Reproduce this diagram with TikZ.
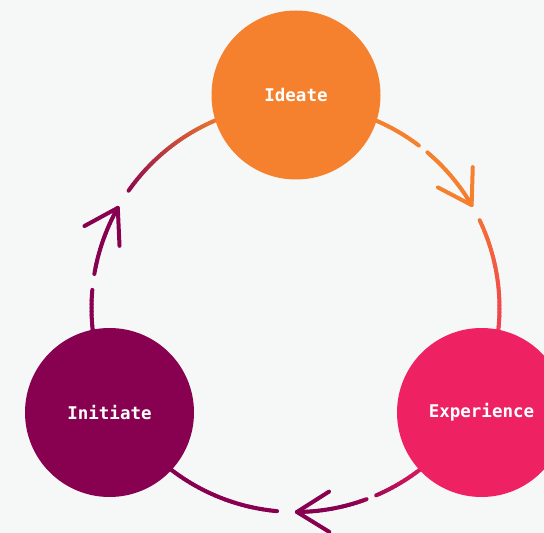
\documentclass[tikz,border=0pt]{standalone}
\usepackage{fontspec}
\newfontfamily\labelfont{DejaVu Sans Mono}
\usetikzlibrary{calc}
\definecolor{bgc}{HTML}{F5F8F7}
\definecolor{ideatec}{HTML}{F5802D}
\definecolor{expc}{HTML}{EE2163}
\definecolor{initc}{HTML}{880050}
\tikzset{
  stage/.style={circle, minimum size=169pt, inner sep=0pt, text=white,
    font=\labelfont\bfseries\fontsize{17.5}{20}\selectfont},
  flow/.style={line width=4pt, line cap=round, line join=round},
}
% #1 start angle, #2 from offset, #3 to offset, #4 colour A, #5 colour B, #6/#7 transition offsets
\newcommand\gseg[7]{%
  \pgfmathtruncatemacro\nsteps{max(1,round((#3-#2)/1))}%
  \foreach \k in {1,...,\nsteps}{%
    \pgfmathsetmacro\oa{#2+(\k-1)*(#3-#2)/\nsteps}%
    \pgfmathsetmacro\ob{#2+\k*(#3-#2)/\nsteps}%
    \pgfmathsetmacro\sa{#1-\oa}%
    \pgfmathsetmacro\ea{#1-\ob}%
    \pgfmathtruncatemacro\pct{100*min(1,max(0,((\oa+\ob)/2-#6)/(#7-#6)))}%
    \draw[flow, draw=#5!\pct!#4] ($(C)+(\sa:204pt)$) arc[start angle=\sa, end angle=\ea, radius=204pt];
  }%
}
% #1 tip angle, #2 colour
\newcommand\barbs[2]{%
  \coordinate (tip) at ($(C)+(#1:204pt)$);
  \draw[flow, draw=#2] ($(tip)+(#1+122:38pt)$) -- (tip) -- ($(tip)+(#1+58:38pt)$);
}
\begin{document}
\begin{tikzpicture}[x=1pt,y=1pt]
\useasboundingbox (0,0) rectangle (544,533);
\clip (0,0) rectangle (544,533);
\fill[bgc] (0,0) rectangle (544,533);
\coordinate (C) at (295.5,225);
% Ideate -> Experience
\gseg{90}{0}{37.2}{ideatec}{expc}{55}{115}
\gseg{90}{40.3}{59.7}{ideatec}{expc}{55}{115}
\gseg{90}{64.5}{120}{ideatec}{expc}{55}{115}
\barbs{30.3}{ideatec}
% Experience -> Initiate
\gseg{-29.3}{0}{37.4}{expc}{initc}{18}{45}
\gseg{-29.3}{40.3}{60.3}{expc}{initc}{18}{45}
\gseg{-29.3}{65.9}{120}{expc}{initc}{18}{45}
\barbs{-89.6}{initc}
% Initiate -> Ideate
\gseg{209.3}{0}{34.4}{initc}{ideatec}{62}{100}
\gseg{209.3}{38.9}{58.7}{initc}{ideatec}{62}{100}
\gseg{209.3}{64.4}{120}{initc}{ideatec}{62}{100}
\barbs{150.6}{initc}
% stages
\node[stage, fill=ideatec] (ideate) at (296,438) {Ideate};
\node[stage, fill=initc] (initiate) at (109.5,120.5) {Initiate};
\node[stage, fill=expc] (experience) at (481.5,120.5) {Experience};
\end{tikzpicture}
\end{document}
